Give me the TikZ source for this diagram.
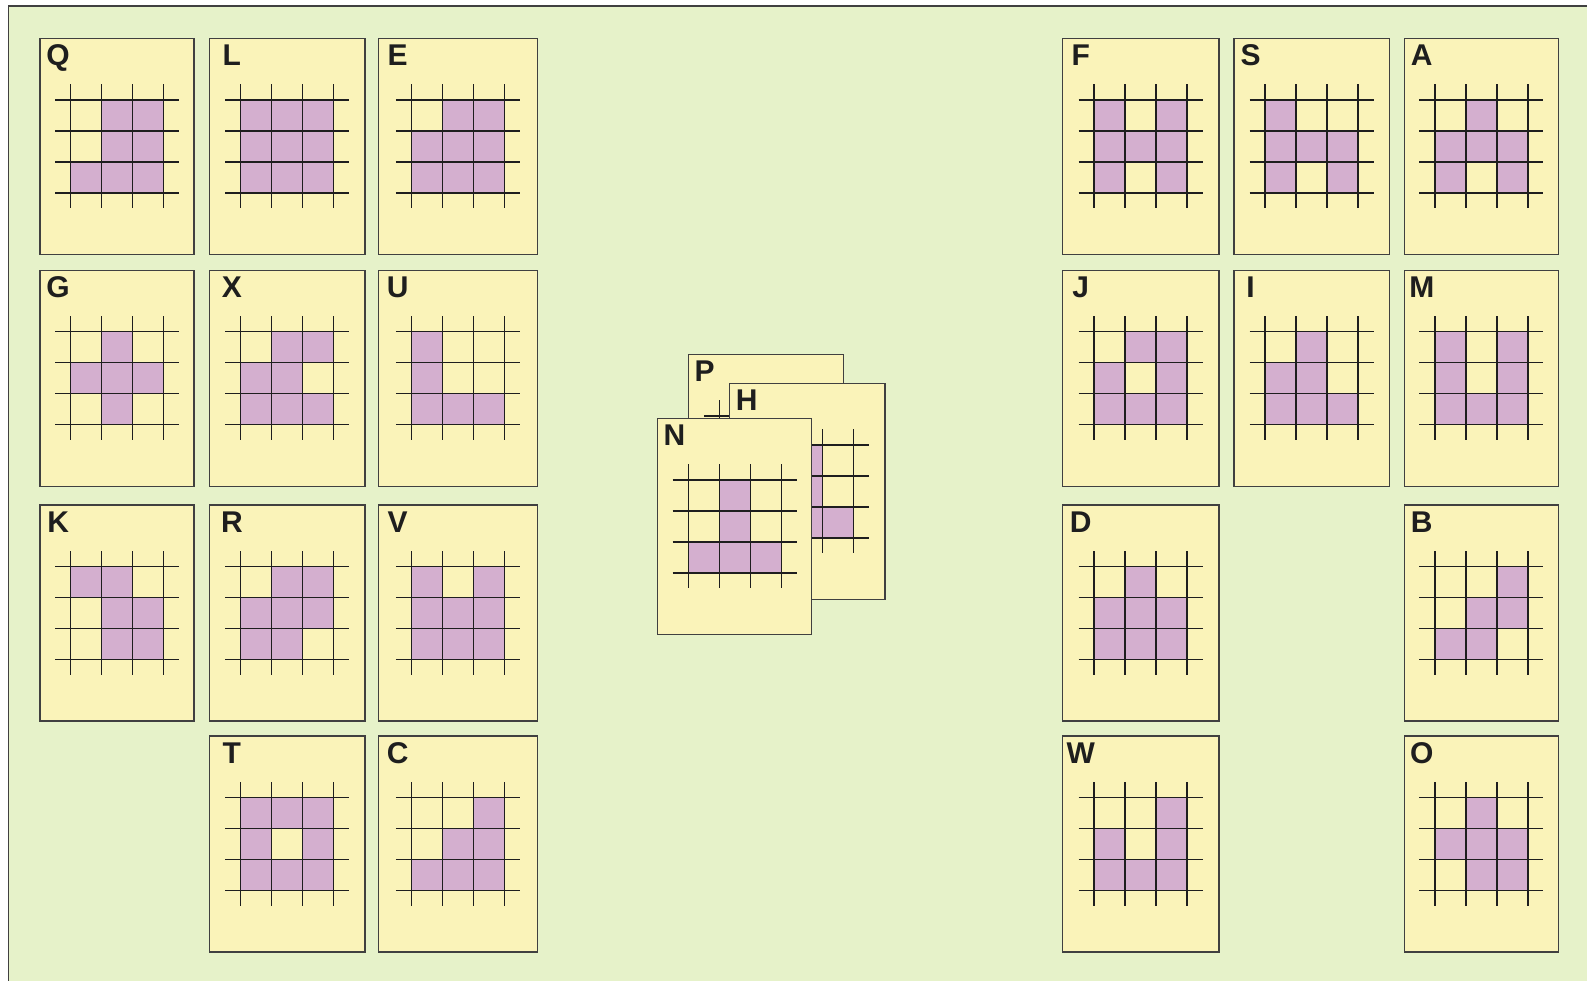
\documentclass[tikz,border=0pt]{standalone}
\usepackage{fontspec}
\setmainfont{Liberation Sans}
\usepackage{tikz}
\definecolor{boardgreen}{HTML}{E6F2C9}
\definecolor{cardyellow}{HTML}{FAF3B9}
\definecolor{celllilac}{HTML}{D4AFCF}
\definecolor{edgegray}{HTML}{404040}
\definecolor{inkdark}{HTML}{1E1E1E}
\tikzset{
  every picture/.style={line join=miter, line cap=butt},
  board/.style={fill=boardgreen, draw=edgegray, line width=1.3pt},
  cardbox/.style={draw=edgegray, fill=cardyellow, line width=1.3pt, inner sep=0pt, outer sep=0pt, minimum height=216pt},
  cardlabel/.style={font=\fontsize{30}{30}\selectfont\bfseries, text=inkdark, anchor=base, inner sep=0pt},
  cellfill/.style={fill=celllilac},
  gridline/.style={draw=inkdark, line width=1.4pt},
}
\newcommand{\patcard}[7]{%
  \node[cardbox, minimum width=#4pt] (#1) at (#2+#4/2, #3+108) {};
  \foreach \ci/\ri in {#7}
    \fill[cellfill] (#2+#4/2-46.5+31*\ci-31, #3+61.5+31*\ri-31) rectangle ++(31,31);
  \foreach \k in {0,...,3} {
    \draw[gridline] (#2+#4/2-62, #3+61.5+31*\k) -- ++(124,0);
    \draw[gridline] (#2+#4/2-46.5+31*\k, #3+46) -- ++(0,124);
  }
  \node[cardlabel] (#1-lbl) at (#2+#5, #3+27.5) {#6};
}

\begin{document}
\begin{tikzpicture}[x=1pt,y=-1pt]
\useasboundingbox (0,0) rectangle (1587,980);
\clip (0,0) rectangle (1587,980);
\draw[board] (8.3,6) rectangle (1600,1000);
\patcard{Q}{40}{38.3}{154}{18.1}{Q}{2/1,3/1,2/2,3/2,1/3,2/3,3/3}
\patcard{L}{209.3}{38.3}{155.7}{22.6}{L}{1/1,2/1,3/1,1/2,2/2,3/2,1/3,2/3,3/3}
\patcard{E}{378.3}{38.3}{159}{19.4}{E}{2/1,3/1,1/2,2/2,3/2,1/3,2/3,3/3}
\patcard{G}{40}{270.2}{154}{18.1}{G}{2/1,1/2,2/2,3/2,2/3}
\patcard{X}{209.3}{270.2}{155.7}{22.6}{X}{2/1,3/1,1/2,2/2,1/3,2/3,3/3}
\patcard{U}{378.3}{270.2}{159}{19.4}{U}{1/1,1/2,1/3,2/3,3/3}
\patcard{K}{40}{505}{154}{18.1}{K}{1/1,2/1,2/2,3/2,2/3,3/3}
\patcard{R}{209.3}{505}{155.7}{22.6}{R}{2/1,3/1,1/2,2/2,3/2,1/3,2/3}
\patcard{V}{378.3}{505}{159}{19.4}{V}{1/1,3/1,1/2,2/2,3/2,1/3,2/3,3/3}
\patcard{T}{209.3}{736}{155.7}{22.6}{T}{1/1,2/1,3/1,1/2,3/2,1/3,2/3,3/3}
\patcard{C}{378.3}{736}{159}{19.4}{C}{3/1,2/2,3/2,1/3,2/3,3/3}
\patcard{F}{1062.3}{38.3}{156.7}{18.5}{F}{1/1,3/1,1/2,2/2,3/2,1/3,3/3}
\patcard{S}{1234}{38.3}{155.3}{16.5}{S}{1/1,1/2,2/2,3/2,1/3,3/3}
\patcard{A}{1404.3}{38.3}{154}{17.5}{A}{2/1,1/2,2/2,3/2,1/3,3/3}
\patcard{J}{1062.3}{270.2}{156.7}{18.5}{J}{2/1,3/1,1/2,3/2,1/3,2/3,3/3}
\patcard{I}{1234}{270.2}{155.3}{16.5}{I}{2/1,1/2,2/2,1/3,2/3,3/3}
\patcard{M}{1404.3}{270.2}{154}{17.5}{M}{1/1,3/1,1/2,3/2,1/3,2/3,3/3}
\patcard{D}{1062.3}{505}{156.7}{18.5}{D}{2/1,1/2,2/2,3/2,1/3,2/3,3/3}
\patcard{B}{1404.3}{505}{154}{17.5}{B}{3/1,2/2,3/2,1/3,2/3}
\patcard{W}{1062.3}{736}{156.7}{18.5}{W}{3/1,1/2,3/2,1/3,2/3,3/3}
\patcard{O}{1404.3}{736}{154}{17.5}{O}{2/1,1/2,2/2,3/2,2/3,3/3}
\patcard{P}{688.3}{354.3}{155}{16.2}{P}{2/1,3/1,1/2,2/2,2/3}
\patcard{H}{729.3}{383.3}{155.7}{17.4}{H}{1/2,2/1,2/2,2/3,3/3}
\patcard{N}{657.7}{418.3}{154}{16.8}{N}{2/1,2/2,1/3,2/3,3/3}
\end{tikzpicture}
\end{document}
